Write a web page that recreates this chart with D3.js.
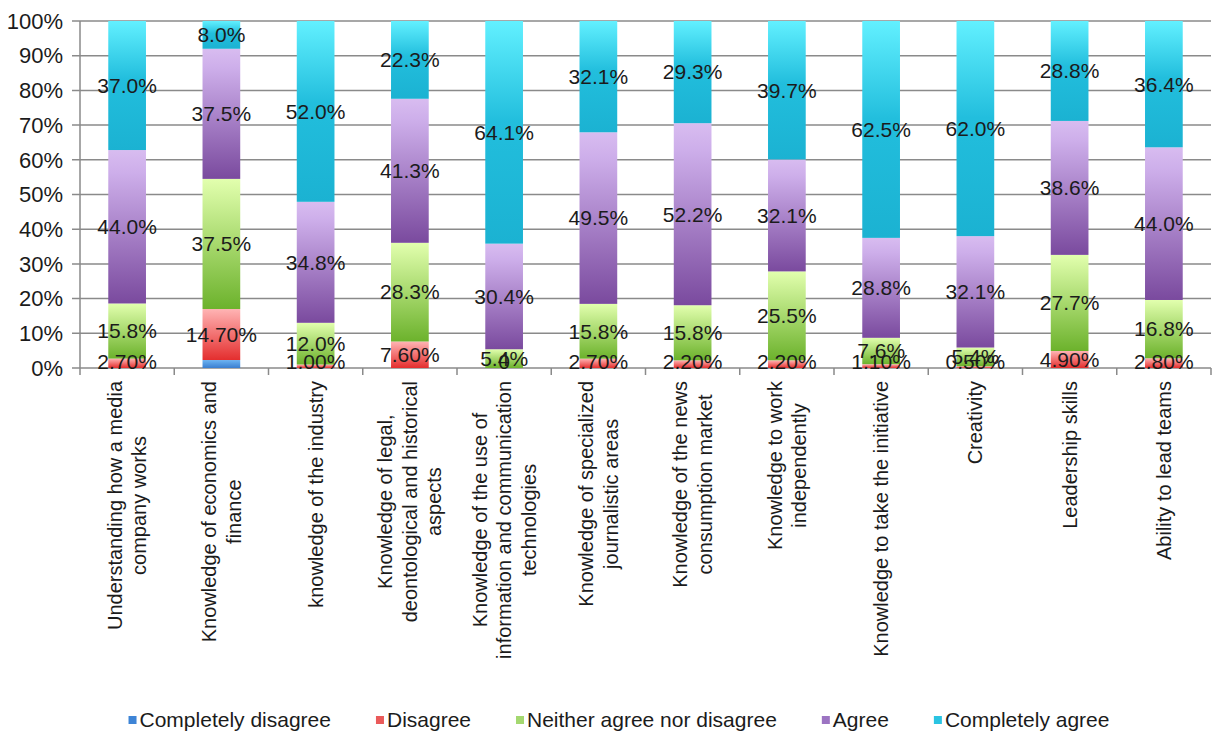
<!DOCTYPE html>
<html><head><meta charset="utf-8">
<script src="https://cdn.jsdelivr.net/npm/d3@7"></script>
<style>
body{margin:0;background:#fff}
svg{display:block;font-family:"Liberation Sans",Arial,sans-serif}
</style>
</head><body>
<svg id="c" width="1212" height="737"></svg>
<script>
// ---- data ----
const categories = [
  ["Understanding how a media", "company works"],
  ["Knowledge of economics and", "finance"],
  ["knowledge of the industry"],
  ["Knowledge of legal,", "deontological and historical", "aspects"],
  ["Knowledge of the use of", "information and communication", "technologies"],
  ["Knowledge of specialized", "journalistic areas"],
  ["Knowledge of the news", "consumption market"],
  ["Knowledge to work", "independently"],
  ["Knowledge to take the initiative"],
  ["Creativity"],
  ["Leadership skills"],
  ["Ability to lead teams"]
];
const seriesNames = ["Completely disagree", "Disagree", "Neither agree nor disagree", "Agree", "Completely agree"];
const completelyDisagree = [0, 2.3, 0, 0, 0, 0, 0, 0, 0, 0, 0, 0];
const disagree           = [2.7, 14.7, 1.0, 7.6, 0, 2.7, 2.2, 2.2, 1.1, 0.5, 4.9, 2.8];
const neither            = [15.8, 37.5, 12.0, 28.3, 5.4, 15.8, 15.8, 25.5, 7.6, 5.4, 27.7, 16.8];
const agree              = [44.0, 37.5, 34.8, 41.3, 30.4, 49.5, 52.2, 32.1, 28.8, 32.1, 38.6, 44.0];
const completelyAgree    = [37.0, 8.0, 52.0, 22.3, 64.1, 32.1, 29.3, 39.7, 62.5, 62.0, 28.8, 36.4];
const yTickValues = [0, 0.1, 0.2, 0.3, 0.4, 0.5, 0.6, 0.7, 0.8, 0.9, 1.0];

// ---- styles ----
const gradStops = [
  [["0", "#6cb4f2"], ["1", "#3a7ed0"]],
  [["0", "#ffb4b4"], ["1", "#e42e2e"]],
  [["0", "#e2ffae"], ["1", "#6cb22c"]],
  [["0", "#d8bcf0"], ["0.15", "#cdaeea"], ["1", "#7a4a9e"]],
  [["0", "#62f0ff"], ["0.45", "#22bedd"], ["1", "#1bb2d2"]]
];
const legendColors = ["#3d84d6", "#ea5a5a", "#a4d870", "#9c74c2", "#2ac4e2"];
const labelFormats = [null, v => v === 0 ? "0" : v.toFixed(2) + "%", v => v.toFixed(1) + "%", v => v.toFixed(1) + "%", v => v.toFixed(1) + "%"];

const svg = d3.select("#c");
const plotLeft = 80, plotRight = 1211, plotTop = 21, plotBottom = 368;
const gridColor = "#8a8a8a";
const textColor = "#1b1b1b";

const defs = svg.append("defs");
gradStops.forEach((stops, i) => {
  const g = defs.append("linearGradient").attr("id", "g" + i)
    .attr("x1", 0).attr("y1", 0).attr("x2", 0).attr("y2", 1);
  stops.forEach(s => g.append("stop").attr("offset", s[0]).attr("stop-color", s[1]));
});

const rows = categories.map((c, i) => ({
  idx: i,
  s0: completelyDisagree[i], s1: disagree[i], s2: neither[i], s3: agree[i], s4: completelyAgree[i]
}));
const keys = ["s0", "s1", "s2", "s3", "s4"];
const stacked = d3.stack().keys(keys).offset(d3.stackOffsetExpand)(rows);

const x = d3.scaleBand().domain(d3.range(categories.length)).range([plotLeft, plotRight])
  .paddingInner(0.6).paddingOuter(0.3);
const y = d3.scaleLinear().domain([0, 1]).range([plotBottom, plotTop]);

// grid lines
svg.append("g").selectAll("line").data(yTickValues).join("line")
  .attr("x1", plotLeft - 8).attr("x2", plotRight)
  .attr("y1", d => y(d)).attr("y2", d => y(d))
  .attr("stroke", gridColor).attr("stroke-width", 1.5);
// y axis line
svg.append("line").attr("x1", plotLeft).attr("x2", plotLeft).attr("y1", plotTop).attr("y2", plotBottom)
  .attr("stroke", gridColor).attr("stroke-width", 1.5);
// x axis ticks at category boundaries
const step = x.step();
svg.append("g").selectAll("line").data(d3.range(categories.length + 1)).join("line")
  .attr("x1", d => plotLeft + d * step).attr("x2", d => plotLeft + d * step)
  .attr("y1", plotBottom).attr("y2", plotBottom + 7)
  .attr("stroke", gridColor).attr("stroke-width", 1.5);
// y tick labels
svg.append("g").selectAll("text").data(yTickValues).join("text")
  .attr("x", 63).attr("y", d => y(d)).attr("dy", "0.35em")
  .attr("text-anchor", "end").attr("font-size", 22).attr("fill", textColor)
  .text(d => d3.format(".0%")(d));

// bars
const barG = svg.append("g");
stacked.forEach((layer, si) => {
  barG.append("g").selectAll("rect").data(layer).join("rect")
    .attr("x", d => x(d.data.idx)).attr("width", x.bandwidth())
    .attr("y", d => y(d[1])).attr("height", d => Math.max(0, y(d[0]) - y(d[1])))
    .attr("fill", "url(#g" + si + ")");
});

// value labels
const vals = [completelyDisagree, disagree, neither, agree, completelyAgree];
const labG = svg.append("g");
stacked.forEach((layer, si) => {
  if (!labelFormats[si]) return;
  labG.append("g").selectAll("text").data(layer).join("text")
    .attr("x", d => x(d.data.idx) + x.bandwidth() / 2)
    .attr("y", d => Math.min(y((d[0] + d[1]) / 2), plotBottom - 6))
    .attr("dy", "0.35em").attr("text-anchor", "middle")
    .attr("font-size", 21).attr("fill", textColor)
    .text(d => labelFormats[si](vals[si][d.data.idx]));
});

// category labels (rotated)
const catG = svg.append("g");
const lineGap = 24.5;
categories.forEach((lines, i) => {
  const cx = x(i) + x.bandwidth() / 2;
  const tmp = catG.append("text").attr("font-size", 20);
  let L = 0;
  lines.forEach(l => { tmp.text(l); L = Math.max(L, tmp.node().getComputedTextLength()); });
  tmp.remove();
  lines.forEach((l, j) => {
    const px = cx + (j - (lines.length - 1) / 2) * lineGap;
    const py = 381 + L / 2;
    catG.append("text")
      .attr("transform", `translate(${px},${py}) rotate(-90)`)
      .attr("text-anchor", "middle").attr("dy", "0.35em")
      .attr("font-size", 20).attr("fill", textColor).text(l);
  });
});

// legend
const legG = svg.append("g");
const items = [];
let cursor = 0;
const legGap = 45;
seriesNames.forEach((n, i) => {
  const g = legG.append("g");
  g.append("rect").attr("x", 0).attr("y", -4).attr("width", 8).attr("height", 8).attr("fill", legendColors[i]);
  const t = g.append("text").attr("x", 11).attr("y", 0).attr("dy", "0.35em")
    .attr("font-size", 21).attr("fill", textColor).text(n);
  const w = 11 + t.node().getComputedTextLength();
  items.push({ g, off: cursor });
  cursor += w + legGap;
});
const total = cursor - legGap;
const startX = 619 - total / 2;
items.forEach(it => it.g.attr("transform", `translate(${startX + it.off},720)`));
</script>
</body></html>
